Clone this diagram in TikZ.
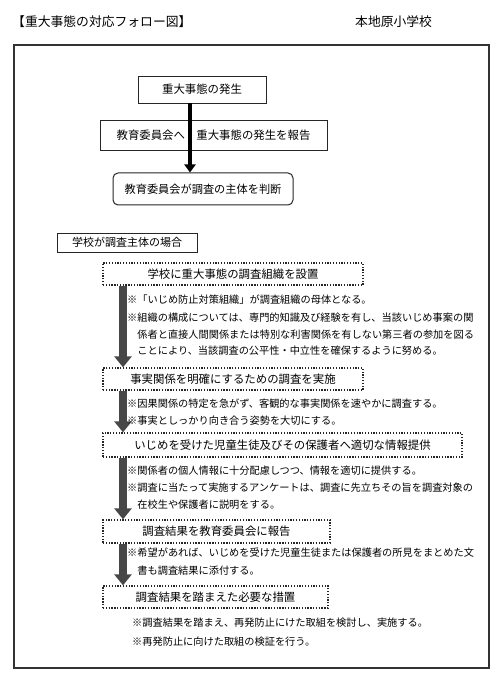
\documentclass[tikz,border=0pt]{standalone}
\usepackage{fontspec}
\setmainfont{Noto Sans CJK JP}
\usetikzlibrary{arrows.meta,calc}
\begin{document}
\begin{tikzpicture}[x=1pt,y=-1pt,
  every node/.style={inner sep=0pt},
  ttl/.style={font=\fontsize{12.8}{14}\selectfont, anchor=west},
  solidbox/.style={draw=black!85, line width=0.9pt, font=\fontsize{11.4}{13}\selectfont},
  roundbox/.style={solidbox, rounded corners=5pt, line width=1pt, font=\fontsize{11.2}{13}\selectfont},
  dotbox/.style={draw=black!85, line width=1.3pt, dash pattern=on 1.3pt off 1.5pt, font=\fontsize{11.4}{13}\selectfont},
  body/.style={font=\fontsize{10.2}{12}\selectfont, anchor=base west},
  thinarr/.style={draw=black, line width=4pt, -{Triangle[width=11pt,length=8pt]}},
  blockarr/.style={draw=black!72, line width=8pt, -{Triangle[width=17pt,length=11pt]}},
]
\useasboundingbox (0,0) rectangle (500,684);
\fill[white] (0,0) rectangle (500,684);

% header
\node[ttl] (title) at (12,22) {【重大事態の対応フォロー図】};
\node[ttl] (school) at (355,22) {本地原小学校};

% frame
\draw[line width=1.1pt, black!80] (14,45) rectangle (489,668);

% top section
\node[solidbox, minimum width=128pt, minimum height=27pt] (n1) at (202,89.5) {重大事態の発生};
\node[solidbox, minimum width=227pt, minimum height=30pt] (n2) at (213.5,135) {教育委員会へ　重大事態の発生を報告};
\node[roundbox, minimum width=180pt, minimum height=32pt] (n3) at (203,189) {教育委員会が調査の主体を判断};
\coordinate (ax0) at (190,0);
\draw[thinarr] (n1.south -| ax0) -- (n3.north -| ax0);

\node[solidbox, minimum width=140pt, minimum height=19pt, font=\fontsize{11}{13}\selectfont] (n4) at (127,242.5) {学校が調査主体の場合};

% school flow
\node[dotbox, minimum width=260pt, minimum height=22pt] (b1) at (233,274) {学校に重大事態の調査組織を設置};
\node[dotbox, minimum width=260pt, minimum height=22pt] (b2) at (233,379) {事実関係を明確にするための調査を実施};
\node[dotbox, minimum width=359pt, minimum height=24pt] (b3) at (282.5,445) {いじめを受けた児童生徒及びその保護者へ適切な情報提供};
\node[dotbox, minimum width=227pt, minimum height=23pt] (b4) at (216.5,531.5) {調査結果を教育委員会に報告};
\node[dotbox, minimum width=225pt, minimum height=22pt] (b5) at (215.5,597) {調査結果を踏まえた必要な措置};

\coordinate (ax) at (123,0);
\draw[blockarr] (b1.south -| ax) -- (b2.north -| ax);
\draw[blockarr] (b2.south -| ax) -- (b3.north -| ax);
\draw[blockarr] (b3.south -| ax) -- (b4.north -| ax);
\draw[blockarr] (b4.south -| ax) -- (b5.north -| ax);

% notes
\node[body] (t1a) at (127,303) {※「いじめ防止対策組織」が調査組織の母体となる。};
\node[body] (t1b) at (127,321) {※組織の構成については、専門的知識及び経験を有し、当該いじめ事案の関};
\node[body] (t1c) at (137.2,338) {係者と直接人間関係または特別な利害関係を有しない第三者の参加を図る};
\node[body] (t1d) at (137.2,354) {ことにより、当該調査の公平性・中立性を確保するように努める。};

\node[body] (t2a) at (127,407) {※因果関係の特定を急がず、客観的な事実関係を速やかに調査する。};
\node[body] (t2b) at (127,424) {※事実としっかり向き合う姿勢を大切にする。};

\node[body] (t3a) at (127,474) {※関係者の個人情報に十分配慮しつつ、情報を適切に提供する。};
\node[body] (t3b) at (127,491) {※調査に当たって実施するアンケートは、調査に先立ちその旨を調査対象の};
\node[body] (t3c) at (137.2,508) {在校生や保護者に説明をする。};

\node[body] (t4a) at (127,556) {※希望があれば、いじめを受けた児童生徒または保護者の所見をまとめた文};
\node[body] (t4b) at (137.2,574) {書も調査結果に添付する。};

\node[body] (t5a) at (132,626) {※調査結果を踏まえ、再発防止にけた取組を検討し、実施する。};
\node[body] (t5b) at (132,645) {※再発防止に向けた取組の検証を行う。};
\end{tikzpicture}
\end{document}
